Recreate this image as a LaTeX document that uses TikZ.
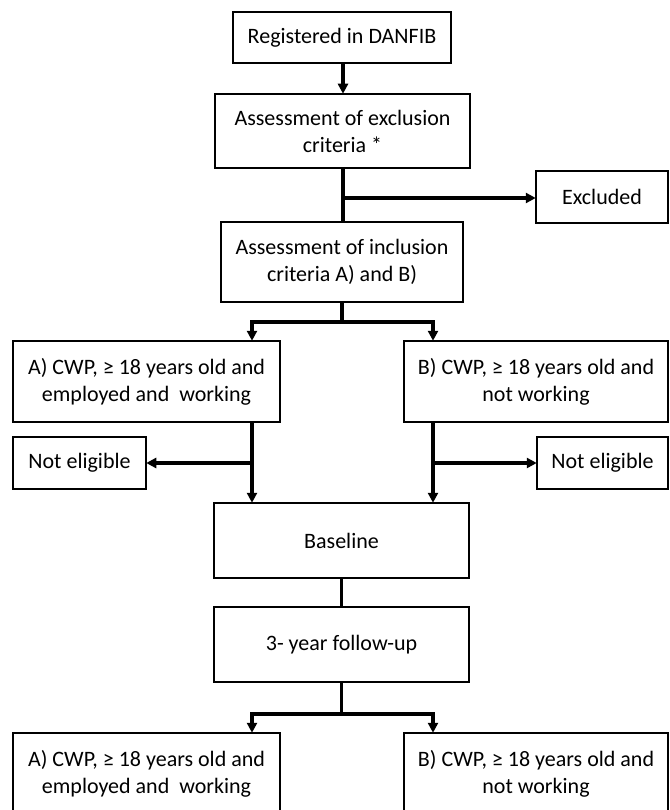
\documentclass[tikz,border=0pt]{standalone}
\usepackage{fontspec}
\setmainfont{Carlito}
\usetikzlibrary{arrows.meta}
\begin{document}
\begin{tikzpicture}[x=1pt,y=-1pt,
  box/.style={draw, line width=1.5pt, align=center, inner sep=0pt,
    font=\fontsize{22}{27}\selectfont},
  conn/.style={line width=3.2pt},
  arr/.style={conn, -{Triangle[length=10pt,width=10pt]}, shorten >=-0.5pt}]
\useasboundingbox (0,0) rectangle (669,810);
\clip (0,0) rectangle (669,810);
\node[box, minimum width=218pt, minimum height=51pt] (reg) at (342,37.5) {Registered in DANFIB};
\node[box, minimum width=255pt, minimum height=74pt] (excl) at (342.5,131) {Assessment of exclusion\\criteria *};
\node[box, minimum width=132pt, minimum height=52pt] (excluded) at (602,197) {Excluded};
\node[box, minimum width=242pt, minimum height=80pt] (incl) at (342,262) {Assessment of inclusion\\criteria A) and B)};
\node[box, minimum width=267pt, minimum height=81pt] (ca) at (146.5,381.5) {A) CWP, ≥ 18 years old and\\employed and\ \ working};
\node[box, minimum width=264pt, minimum height=81pt] (cb) at (536,381.5) {B) CWP, ≥ 18 years old and\\not working};
\node[box, minimum width=133pt, minimum height=52pt] (nel) at (79.5,463) {Not eligible};
\node[box, minimum width=131pt, minimum height=52pt] (ner) at (602.5,463) {Not eligible};
\node[box, minimum width=255pt, minimum height=75pt] (base) at (341.5,540.5) {Baseline};
\node[box, minimum width=255pt, minimum height=75pt] (fu) at (341.5,644.5) {3- year follow-up};
\node[box, minimum width=267pt, minimum height=81pt] (fa) at (146.5,773.5) {A) CWP, ≥ 18 years old and\\employed and\ \ working};
\node[box, minimum width=264pt, minimum height=81pt] (fb) at (536,773.5) {B) CWP, ≥ 18 years old and\\not working};
% coordinates
\coordinate (j1) at (343,198);
\coordinate (j2) at (342,322);
\coordinate (j2l) at (252,322);
\coordinate (j2r) at (433,322);
\coordinate (jl) at (252,463);
\coordinate (jr) at (433,463);
\coordinate (j3) at (341.5,714);
\coordinate (j3l) at (252,714);
\coordinate (j3r) at (433,714);
% connectors
\draw[arr] (reg.south -| 343,0) -- (excl.north -| 343,0);
\draw[conn] (excl.south -| 343,0) -- (incl.north -| 343,0);
\draw[arr] (j1) -- (excluded.west |- j1);
\draw[conn] (incl.south) -- (j2);
\draw[conn] ([xshift=-1.6pt]j2l) -- ([xshift=1.6pt]j2r);
\draw[arr] (j2l) -- (ca.north -| j2l);
\draw[arr] (j2r) -- (cb.north -| j2r);
\draw[arr] (ca.south -| jl) -- (base.north -| jl);
\draw[arr] (jl) -- (nel.east);
\draw[arr] (cb.south -| jr) -- (base.north -| jr);
\draw[arr] (jr) -- (ner.west);
\draw[conn] (base.south) -- (fu.north);
\draw[conn] (fu.south) -- (j3);
\draw[conn] ([xshift=-1.6pt]j3l) -- ([xshift=1.6pt]j3r);
\draw[arr] (j3l) -- (fa.north -| j3l);
\draw[arr] (j3r) -- (fb.north -| j3r);
\end{tikzpicture}
\end{document}
